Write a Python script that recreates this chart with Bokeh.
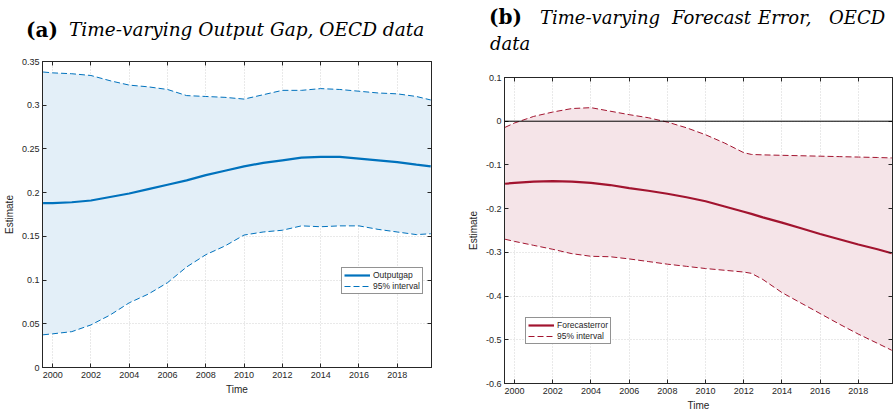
from bokeh.plotting import figure
from bokeh.models import (Range1d, FixedTicker, CustomJSTickFormatter, LinearAxis, Div,
                          Legend, LegendItem, Span)
from bokeh.layouts import row, column
from bokeh.embed import file_html
from bokeh.resources import INLINE

# ---------------- data: panel (a) ----------------
years_a = [1999.5, 2000, 2001, 2002, 2003, 2004, 2005, 2006, 2007, 2008, 2009, 2010,
           2011, 2012, 2013, 2014, 2015, 2016, 2017, 2018, 2019, 2019.75]
gap = [0.188, 0.188, 0.189, 0.191, 0.195, 0.199, 0.204, 0.209, 0.214, 0.220, 0.225, 0.230,
       0.234, 0.237, 0.240, 0.241, 0.241, 0.239, 0.237, 0.235, 0.232, 0.230]
gap_upper = [0.338, 0.337, 0.336, 0.334, 0.328, 0.323, 0.321, 0.318, 0.311, 0.310, 0.309, 0.307,
             0.312, 0.317, 0.317, 0.319, 0.318, 0.316, 0.314, 0.313, 0.310, 0.306]
gap_lower = [0.0374, 0.0385, 0.041, 0.0487, 0.060, 0.074, 0.084, 0.097, 0.115, 0.129, 0.139, 0.1515,
             0.155, 0.157, 0.162, 0.161, 0.162, 0.162, 0.158, 0.155, 0.152, 0.153]

# ---------------- data: panel (b) ----------------
years_b = [1999.5, 2000, 2001, 2002, 2003, 2004, 2005, 2006, 2007, 2008, 2009, 2010,
           2011, 2012, 2012.4, 2013, 2014, 2015, 2016, 2017, 2018, 2019, 2019.75]
ferr = [-0.143, -0.141, -0.138, -0.137, -0.138, -0.141, -0.146, -0.153, -0.159, -0.166, -0.174, -0.183,
        -0.195, -0.207, -0.212, -0.220, -0.232, -0.245, -0.258, -0.270, -0.282, -0.293, -0.302]
ferr_upper = [-0.014, -0.004, 0.011, 0.021, 0.029, 0.031, 0.023, 0.015, 0.008, -0.002, -0.015, -0.031,
              -0.050, -0.072, -0.076, -0.077, -0.078, -0.079, -0.080, -0.081, -0.082, -0.083, -0.084]
ferr_lower = [-0.270, -0.275, -0.284, -0.293, -0.303, -0.309, -0.310, -0.315, -0.321, -0.327, -0.332, -0.337,
              -0.341, -0.345, -0.348, -0.362, -0.392, -0.416, -0.440, -0.464, -0.487, -0.508, -0.524]

x_ticks = [2000, 2002, 2004, 2006, 2008, 2010, 2012, 2014, 2016, 2018]
y_ticks_a = [0, 0.05, 0.1, 0.15, 0.2, 0.25, 0.3, 0.35]
y_ticks_b = [-0.6, -0.5, -0.4, -0.3, -0.2, -0.1, 0, 0.1]

title_a_label = "(a)"
title_a_text = "Time-varying Output Gap, OECD data"
title_b_label = "(b)"
title_b_words = ["Time-varying", "Forecast", "Error,", "OECD", "data"]

TICK_FONT = "Liberation Sans"
TITLE_FONT = "DejaVu Serif"
DARK = "#262626"

fmt = CustomJSTickFormatter(code="return tick.toFixed(2).replace(/\\.?0+$/, '') || '0';")
blank = CustomJSTickFormatter(code="return '';")


def make_panel(years, mid, lo, hi, color, fill, yticks, yr, borders, legend_loc, legend_labels):
    left, right, top, bottom = borders
    h = 306 + top + bottom
    p = figure(width=447, height=h, frame_width=447 - left - right, frame_height=306,
               x_range=Range1d(1999.47, 2019.79), y_range=Range1d(*yr),
               output_backend="svg", toolbar_location=None,
               min_border_left=left, min_border_right=right,
               min_border_top=top, min_border_bottom=bottom,
               background_fill_color="white", border_fill_color="white")
    p.outline_line_color = DARK
    p.outline_line_width = 1

    p.varea(x=years, y1=lo, y2=hi, fill_color=fill, fill_alpha=1.0)
    r_hi = p.line(years, hi, line_color=color, line_width=1, line_dash="6 3")
    p.line(years, lo, line_color=color, line_width=1, line_dash="6 3")
    r_mid = p.line(years, mid, line_color=color, line_width=2.2)

    for ax in (p.xaxis[0], p.yaxis[0]):
        ax.major_tick_in = 4
        ax.major_tick_out = 0
        ax.minor_tick_in = 0
        ax.minor_tick_out = 0
        ax.axis_line_color = DARK
        ax.major_tick_line_color = DARK
        ax.major_label_text_font = TICK_FONT
        ax.major_label_text_font_size = "9px"
        ax.major_label_text_color = DARK
        ax.axis_label_text_font = TICK_FONT
        ax.axis_label_text_font_size = "10px"
        ax.axis_label_text_font_style = "normal"
        ax.axis_label_text_color = DARK
    p.xaxis[0].ticker = FixedTicker(ticks=x_ticks)
    p.yaxis[0].ticker = FixedTicker(ticks=yticks)
    p.yaxis[0].formatter = fmt
    p.xaxis[0].axis_label = "Time"
    p.yaxis[0].axis_label = "Estimate"
    p.xaxis[0].major_label_standoff = 4
    p.yaxis[0].major_label_standoff = 3
    p.xaxis[0].axis_label_standoff = 3
    p.yaxis[0].axis_label_standoff = 4

    # top and right axes (ticks only)
    for loc, tk in (("above", x_ticks), ("right", yticks)):
        ax = LinearAxis(ticker=FixedTicker(ticks=tk), formatter=blank,
                        major_tick_in=4, major_tick_out=0,
                        minor_tick_in=0, minor_tick_out=0,
                        major_label_standoff=0, axis_line_color=DARK, major_tick_line_color=DARK)
        p.add_layout(ax, loc)

    p.xgrid.ticker = FixedTicker(ticks=x_ticks)
    p.ygrid.ticker = FixedTicker(ticks=yticks)
    for g in (p.xgrid[0], p.ygrid[0]):
        g.grid_line_color = "#d2d2d2"
        g.grid_line_dash = "1 2"
        g.grid_line_width = 1

    legend = Legend(items=[LegendItem(label=legend_labels[0], renderers=[r_mid]),
                           LegendItem(label=legend_labels[1], renderers=[r_hi])],
                    location=legend_loc, orientation="vertical",
                    border_line_color=DARK, border_line_width=1, background_fill_color="white",
                    background_fill_alpha=1.0, label_text_font=TICK_FONT, label_text_font_size="8.5px",
                    label_text_color=DARK, glyph_width=26, glyph_height=10, label_height=10,
                    spacing=1, padding=2, margin=0, label_standoff=3)
    p.add_layout(legend, "center")
    return p


def span(txt, left, top, bold, size=18):
    if bold:
        st = "font-weight:bold;font-style:normal;font-size:20px;"
    else:
        st = f"font-weight:normal;font-style:italic;font-size:{size}px;"
    return (f'<span style="position:absolute;left:{left}px;top:{top}px;line-height:1;'
            f'white-space:nowrap;{st}">{txt}</span>')


def title_div(height, spans):
    html = (f'<div style="position:relative;width:447px;height:{height}px;'
            f'font-family:\'{TITLE_FONT}\';color:black;margin:0;padding:0;">' + "".join(spans) + "</div>")
    return Div(text=html, width=447, height=height, margin=0,
               styles={"overflow": "visible", "margin": "0", "padding": "0"})


# panel (a)
pa = make_panel(years_a, gap, gap_lower, gap_upper, "#0072BD", "#E3EFF8", y_ticks_a, (0, 0.35),
                (41, 17, 16, 52), (299, 73), ["Outputgap", "95% interval"])
ta = title_div(45, [span(title_a_label, 26, 20, True), span(title_a_text, 69, 21, False, 18.5)])

# panel (b)
pb = make_panel(years_b, ferr, ferr_lower, ferr_upper, "#A2142F", "#F5E4E8", y_ticks_b, (-0.6, 0.1),
                (56, 3, 17, 36), (21, 39), ["Forecasterror", "95% interval"])
pb.add_layout(Span(location=0, dimension="width", line_color="black", line_width=1))
tb = title_div(60, [span(title_b_label, 41, 7, True),
                    span(title_b_words[0], 92, 9, False), span(title_b_words[1], 224, 9, False),
                    span(title_b_words[2], 310, 9, False), span(title_b_words[3], 381, 9, False),
                    span(title_b_words[4], 42, 35, False)])

layout = row(column(ta, pa, spacing=0), column(tb, pb, spacing=0), spacing=0)
open("out.html", "w").write(file_html(layout, INLINE))
